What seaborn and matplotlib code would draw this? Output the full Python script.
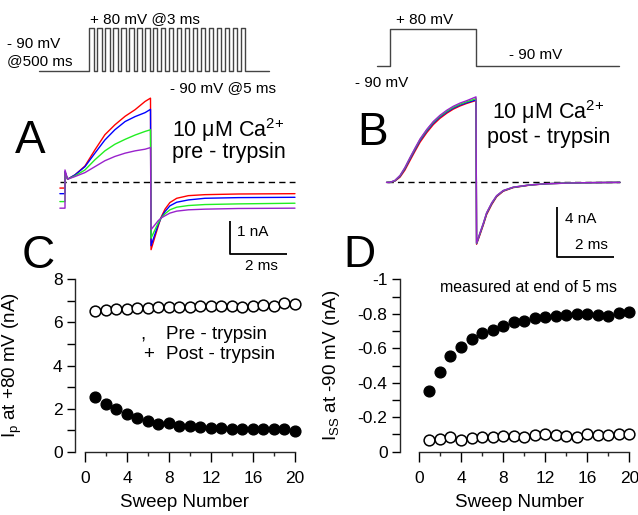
import numpy as np
import pandas as pd
import matplotlib
matplotlib.use("Agg")
import matplotlib.pyplot as plt
import seaborn as sns
from matplotlib.ticker import FixedLocator

# ---------------- data ----------------
sweeps = list(range(1, 21))

# Panel C: peak current at +80 mV (nA)
ip_pre = [2.55, 2.20, 1.97, 1.75, 1.55, 1.42, 1.28, 1.31, 1.21, 1.19,
          1.16, 1.11, 1.11, 1.05, 1.04, 1.04, 1.05, 1.05, 1.05, 0.97]
ip_post = [6.53, 6.58, 6.64, 6.64, 6.67, 6.65, 6.73, 6.73, 6.72, 6.70,
           6.76, 6.76, 6.75, 6.75, 6.73, 6.75, 6.79, 6.78, 6.90, 6.84]

# Panel D: steady-state current at -90 mV (nA)
iss_pre = [-0.354, -0.462, -0.555, -0.607, -0.652, -0.687, -0.706, -0.731, -0.750, -0.760,
           -0.774, -0.780, -0.787, -0.793, -0.800, -0.800, -0.795, -0.789, -0.803, -0.810]
iss_post = [-0.068, -0.075, -0.083, -0.068, -0.081, -0.085, -0.087, -0.093, -0.089, -0.083,
            -0.097, -0.100, -0.095, -0.091, -0.083, -0.104, -0.095, -0.095, -0.100, -0.100]

# Panel A: current traces (ms, nA), sweeps 1, 2, 5, 20
tA = [-0.18, 0.0, 0.0, 0.09, 0.35, 0.70, 1.05, 1.40, 1.75, 2.11, 2.46, 2.81, 3.0,
      3.02, 3.16, 3.27, 3.37, 3.51, 3.68, 3.92, 4.33, 4.91, 6.08, 8.07]
iA_red = [-0.18, -0.18, 0.30, 0.09, 0.22, 0.49, 0.98, 1.44, 1.74, 2.00, 2.20, 2.45, 2.55,
          -2.05, -1.65, -1.34, -1.07, -0.82, -0.62, -0.49, -0.41, -0.38, -0.36, -0.35]
iA_blue = [-0.35, -0.35, 0.32, 0.09, 0.22, 0.47, 0.88, 1.28, 1.59, 1.84, 1.99, 2.11, 2.21,
           -1.93, -1.57, -1.29, -1.09, -0.89, -0.72, -0.61, -0.54, -0.49, -0.47, -0.46]
iA_green = [-0.59, -0.59, 0.28, 0.09, 0.19, 0.37, 0.68, 0.95, 1.15, 1.30, 1.43, 1.54, 1.59,
            -1.70, -1.44, -1.24, -1.09, -0.96, -0.84, -0.76, -0.71, -0.68, -0.66, -0.64]
iA_purple = [-0.79, -0.79, 0.37, 0.09, 0.17, 0.29, 0.47, 0.65, 0.78, 0.88, 0.95, 1.00, 1.05,
             -1.44, -1.29, -1.17, -1.09, -1.02, -0.94, -0.88, -0.84, -0.82, -0.80, -0.79]

# Panel B: current traces (ms, nA)
tB = [-0.12, 0.0, 0.17, 0.35, 0.52, 0.70, 0.87, 1.05, 1.28, 1.51, 1.74, 1.98, 2.21, 2.44,
      2.67, 3.0, 3.02, 3.14, 3.26, 3.37, 3.55, 3.72, 3.95, 4.30, 4.88, 5.47, 6.63, 8.02]
iB_red = [0, 0, 0.10, 0.42, 0.98, 1.76, 2.48, 3.22, 3.97, 4.62, 5.12, 5.53, 5.86, 6.11,
          6.31, 6.55, -4.95, -4.18, -3.38, -2.58, -1.77, -1.15, -0.71, -0.42, -0.22, -0.11, -0.03, 0.0]
iB_blue = [0, 0, 0.12, 0.49, 1.09, 1.88, 2.60, 3.35, 4.09, 4.73, 5.22, 5.62, 5.94, 6.18,
           6.37, 6.60, -4.90, -4.10, -3.30, -2.50, -1.70, -1.10, -0.68, -0.40, -0.21, -0.11, -0.03, 0.0]
iB_green = [0, 0, 0.14, 0.53, 1.15, 1.96, 2.68, 3.43, 4.17, 4.81, 5.29, 5.69, 6.01, 6.25,
            6.44, 6.70, -4.87, -4.06, -3.26, -2.46, -1.66, -1.08, -0.66, -0.39, -0.20, -0.10, -0.03, 0.0]
iB_purple = [0, 0, 0.16, 0.56, 1.19, 2.00, 2.73, 3.48, 4.23, 4.87, 5.36, 5.77, 6.09, 6.34,
             6.53, 6.84, -4.85, -4.03, -3.23, -2.43, -1.63, -1.06, -0.65, -0.38, -0.20, -0.10, -0.03, 0.0]

trace_names = ["sweep 1", "sweep 2", "sweep 5", "sweep 20"]
trace_colors = ["#ff0000", "#0000ff", "#22ee22", "#9922cc"]

# Voltage protocols (schematic)
v_hold, v_step = -90, 80
n_pulses = 20
protB_t = [-0.45, 0.0, 0.0, 3.0, 3.0, 8.0]
protB_v = [v_hold, v_hold, v_step, v_step, v_hold, v_hold]

# ---------------- style ----------------
sns.set_theme(style="ticks")
plt.rcParams["font.family"] = ["Liberation Sans", "DejaVu Sans"]
plt.rcParams["mathtext.fontset"] = "custom"
plt.rcParams["mathtext.rm"] = "Liberation Sans"
plt.rcParams["mathtext.it"] = "Liberation Sans:italic"
plt.rcParams["mathtext.bf"] = "Liberation Sans:bold"
plt.rcParams["axes.unicode_minus"] = False

W, H = 638, 515
fig = plt.figure(figsize=(W / 100, H / 100), dpi=100)
fig.patch.set_facecolor("white")


def px_axes(x0, y0, x1, y1):
    return fig.add_axes([x0 / W, 1 - y1 / H, (x1 - x0) / W, (y1 - y0) / H])


def ftext(x, y, s, size, **kw):
    kw.setdefault("va", "baseline")
    kw.setdefault("ha", "left")
    fig.text(x / W, 1 - y / H, s, fontsize=size, color="black", **kw)


# ---------------- protocol A ----------------
axPA = px_axes(30, 15, 280, 80)
w_frac = 0.55
xs, vs = [-6.29], [v_hold]
for k in range(n_pulses):
    xs += [k, k, k + w_frac, k + w_frac]
    vs += [v_hold, v_step, v_step, v_hold]
xs += [22.58]
vs += [v_hold]
sns.lineplot(x=xs, y=vs, ax=axPA, sort=False, estimator=None, color="#444444", lw=1.0)
axPA.set_xlim(-7.48, 23.96)
axPA.set_ylim(-127.7, 130.4)
axPA.set_axis_off()

# ---------------- protocol B ----------------
axPB = px_axes(370, 15, 630, 80)
sns.lineplot(x=protB_t, y=protB_v, ax=axPB, sort=False, estimator=None, color="#444444", lw=1.0)
axPB.set_xlim(-0.698, 8.372)
axPB.set_ylim(-155.2, 147.5)
axPB.set_axis_off()

# ---------------- traces A ----------------
axA = px_axes(55, 90, 300, 270)
dfA = pd.DataFrame({
    "t": tA * 4,
    "I": iA_red + iA_blue + iA_green + iA_purple,
    "sweep": sum([[n] * len(tA) for n in trace_names], []),
})
axA.hlines(0, -0.175, 8.07, colors="black", lw=1.0, linestyles=(0, (4.5, 3.0)))
sns.lineplot(data=dfA, x="t", y="I", hue="sweep", hue_order=trace_names,
             palette=trace_colors, sort=False, estimator=None, lw=1.0,
             legend=False, ax=axA)
# scale bar: 2 ms, 1 nA
axA.plot([5.79, 5.79, 7.79], [-1.18, -2.18, -2.18], color="black", lw=1.3,
         solid_capstyle="butt")
axA.set_xlim(-0.351, 8.246)
axA.set_ylim(-2.667, 2.797)
axA.set_axis_off()

# ---------------- traces B ----------------
axB = px_axes(380, 90, 630, 270)
dfB = pd.DataFrame({
    "t": tB * 4,
    "I": iB_red + iB_blue + iB_green + iB_purple,
    "sweep": sum([[n] * len(tB) for n in trace_names], []),
})
axB.hlines(0, -0.105, 8.02, colors="black", lw=1.0, linestyles=(0, (4.5, 3.0)))
sns.lineplot(data=dfB, x="t", y="I", hue="sweep", hue_order=trace_names,
             palette=trace_colors, sort=False, estimator=None, lw=1.0,
             legend=False, ax=axB)
# scale bar: 2 ms, 4 nA
axB.plot([5.826, 5.826, 7.826], [-1.97, -5.97, -5.97], color="black", lw=1.3,
         solid_capstyle="butt")
axB.set_xlim(-0.349, 8.372)
axB.set_ylim(-7.01, 7.39)
axB.set_axis_off()


# ---------------- summary axes helper ----------------
def style_summary(ax, ymaj, ymin_loc, ylabels):
    sns.despine(ax=ax)
    ax.spines["left"].set_linewidth(1.0)
    ax.spines["bottom"].set_linewidth(1.0)
    ax.spines["bottom"].set_bounds(0, 20)
    ax.xaxis.set_major_locator(FixedLocator([0, 4, 8, 12, 16, 20]))
    ax.xaxis.set_minor_locator(FixedLocator([2, 6, 10, 14, 18]))
    ax.yaxis.set_major_locator(FixedLocator(ymaj))
    ax.yaxis.set_minor_locator(FixedLocator(ymin_loc))
    ax.set_yticklabels(ylabels)
    ax.tick_params(axis="y", which="both", length=6, width=1.0, pad=3,
                   labelsize=12.5, color="black", labelcolor="black")
    ax.tick_params(axis="x", which="major", length=7, width=1.0, pad=7,
                   labelsize=12.5, color="black", labelcolor="black")
    ax.tick_params(axis="x", which="minor", length=3, width=1.0)
    ax.set_facecolor("white")


# ---------------- panel C ----------------
axC = px_axes(75, 279.3, 295, 451.7)
sns.scatterplot(x=sweeps, y=ip_post, ax=axC, s=60, color="white",
                edgecolor="black", linewidth=1.1, clip_on=False, zorder=3)
sns.scatterplot(x=sweeps, y=ip_pre, ax=axC, s=60, color="black",
                edgecolor="black", linewidth=1.0, clip_on=False, zorder=3)
axC.set_xlim(-0.95, 20)
axC.set_ylim(0, 8)
style_summary(axC, [0, 2, 4, 6, 8], [1, 3, 5, 7], ["0", "2", "4", "6", "8"])
axC.spines["left"].set_bounds(0, 8)
axC.set_xlabel("Sweep Number", fontsize=13.5, color="black")
axC.set_ylabel(r"I$_{\mathrm{p}}$ at +80 mV (nA)", fontsize=13.5, color="black")
axC.xaxis.set_label_coords(0.5, -0.245)
axC.yaxis.set_label_coords(-0.234, 0.5)

# ---------------- panel D ----------------
axD = px_axes(400, 279.3, 629.3, 451.7)
sns.scatterplot(x=sweeps, y=iss_post, ax=axD, s=60, color="white",
                edgecolor="black", linewidth=1.1, clip_on=False, zorder=3)
sns.scatterplot(x=sweeps, y=iss_pre, ax=axD, s=60, color="black",
                edgecolor="black", linewidth=1.0, clip_on=False, zorder=3)
axD.set_xlim(-1.8, 20)
axD.set_ylim(0, -1)
style_summary(axD, [0, -0.2, -0.4, -0.6, -0.8, -1.0],
              [-0.1, -0.3, -0.5, -0.7, -0.9],
              ["0", "-0.2", "-0.4", "-0.6", "-0.8", "-1"])
axD.spines["left"].set_bounds(0, -1)
axD.set_xlabel("Sweep Number", fontsize=13.5, color="black")
axD.set_ylabel(r"I$_{\mathrm{SS}}$ at -90 mV (nA)", fontsize=13.5, color="black")
axD.xaxis.set_label_coords(0.519, -0.245)
axD.yaxis.set_label_coords(-0.251, 0.5)

# ---------------- texts ----------------
# protocol labels
ftext(90, 22.7, "+ 80 mV @3 ms", 11)
ftext(7, 47.7, "- 90 mV", 11)
ftext(7, 65, "@500 ms", 11)
ftext(170, 91.7, "- 90 mV @5 ms", 11)
ftext(396, 24, "+ 80 mV", 11)
ftext(509, 59.3, "- 90 mV", 11)
ftext(355, 87.3, "- 90 mV", 11)

# condition labels
ftext(228.5, 137.3, r"10 μM Ca$^{2{+}}$", 15.5, ha="center")
ftext(228.5, 158.3, "pre - trypsin", 15.5, ha="center")
ftext(548, 119.3, r"10 μM Ca$^{2{+}}$", 15.5, ha="center")
ftext(548.3, 142.7, "post - trypsin", 15.5, ha="center")

# scale bar labels
ftext(237, 236, "1 nA", 11)
ftext(245, 270, "2 ms", 11)
ftext(565, 222.7, "4 nA", 11)
ftext(575, 249.3, "2 ms", 11)

# panel letters
ftext(15, 153, "A", 33)
ftext(357, 145, "B", 33)
ftext(22, 268, "C", 33)
ftext(343, 267, "D", 32)

# legend in C (as in original, symbol glyphs render as text)
ftext(140, 339.3, ",", 13.5)
ftext(143, 359.3, "+", 13.5)
ftext(166, 339.3, "Pre - trypsin", 13.5)
ftext(166, 359.3, "Post - trypsin", 13.5)

# note in D
ftext(440, 291.7, "measured at end of 5 ms", 11.5)

fig.savefig("out.png", dpi=100, facecolor="white")
